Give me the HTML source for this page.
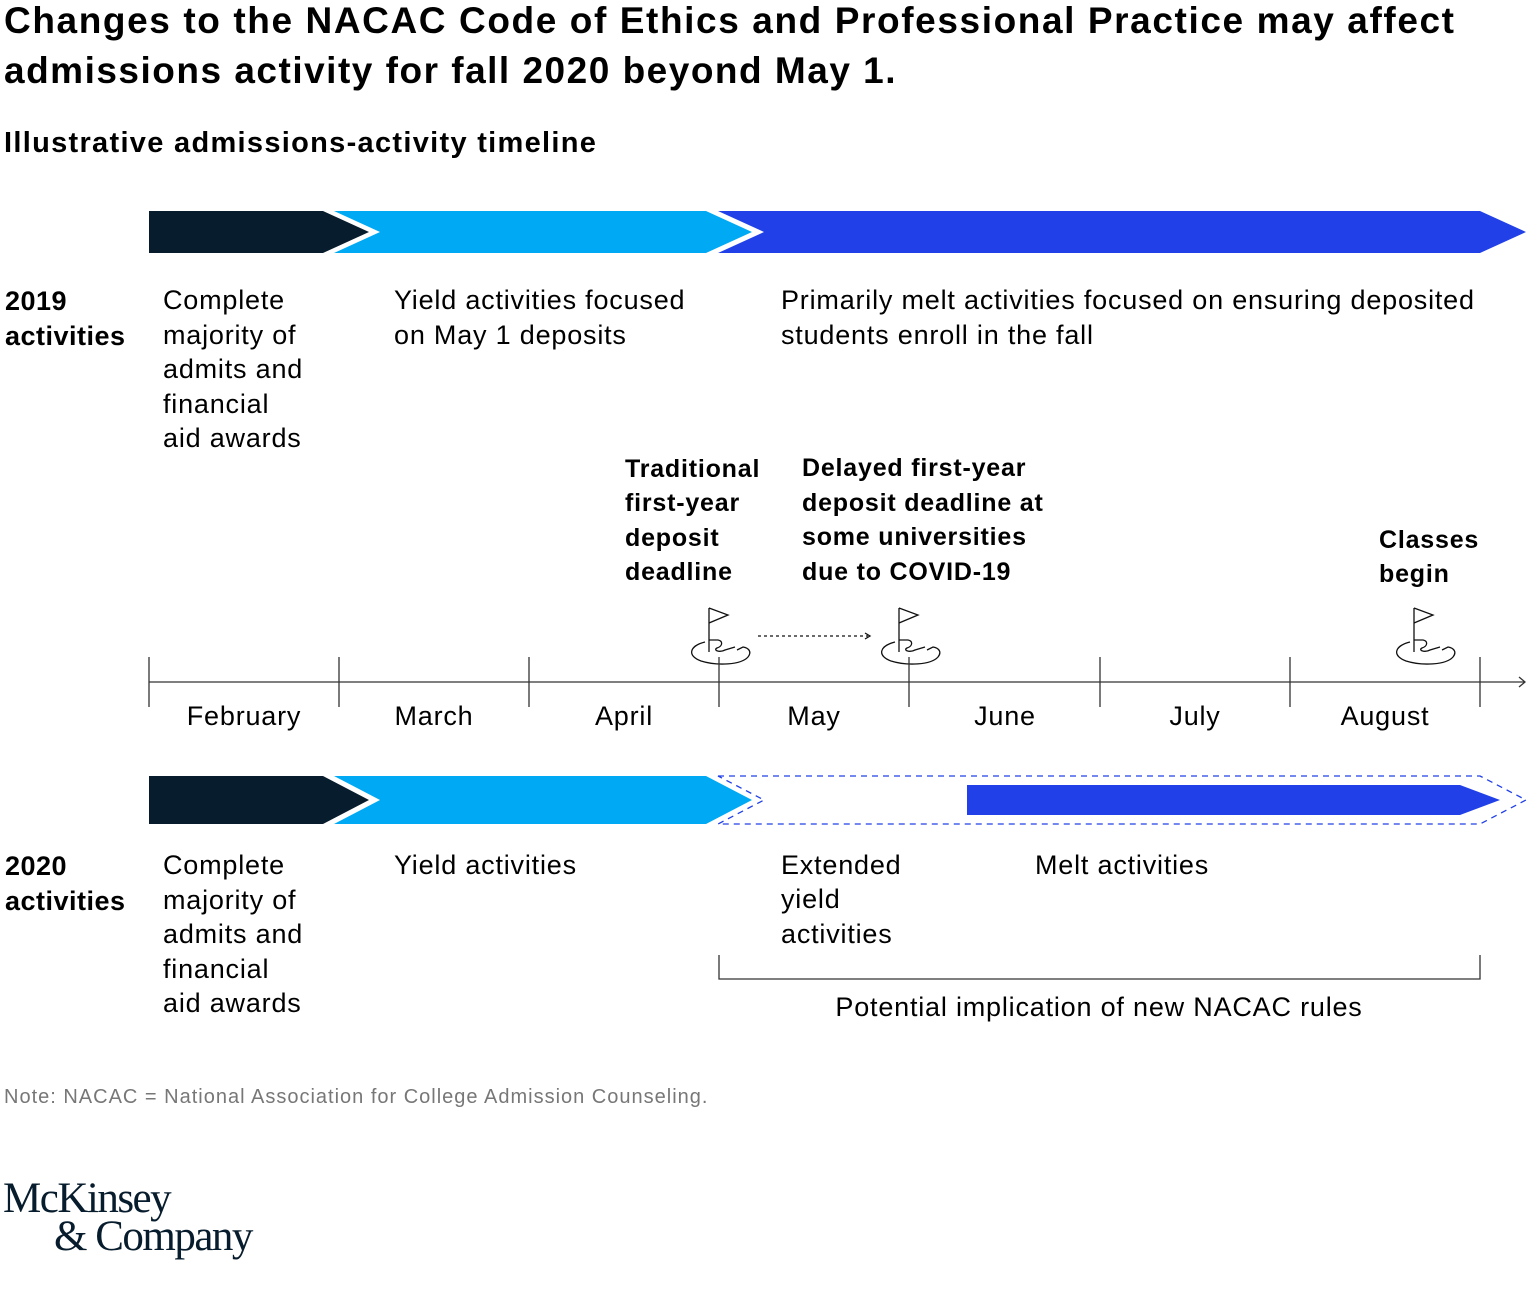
<!DOCTYPE html>
<html><head><meta charset="utf-8"><style>
body{margin:0;background:#fff;width:1536px;height:1299px;overflow:hidden;font-family:"Liberation Sans",sans-serif;color:#000}
</style></head><body>
<svg width="1536" height="1299" xmlns="http://www.w3.org/2000/svg" style="position:absolute;left:0;top:0">
<defs>
<g id="flag">
<line x1="-10" y1="608" x2="-10" y2="652" stroke="#111" stroke-width="1.3"/>
<path d="M-10,608 L9,615 L-10,623" fill="none" stroke="#111" stroke-width="1.3"/>
<path d="M-10,640 L-1,640 C4,641 4,646 -2,648 C-6,650 0,653 6,650 L16,647" fill="none" stroke="#111" stroke-width="1.3"/>
<path d="M-14,642 C-30,646 -32,656 -18,661 C-2,666 22,665 29,657 C33,652 30,648 24,647 L18,650" fill="none" stroke="#111" stroke-width="1.3"/>
</g>
</defs>
<g font-family="Liberation Sans, sans-serif">
<text x="4" y="33" font-size="37" font-weight="bold" letter-spacing="1.6">Changes to the NACAC Code of Ethics and Professional Practice may affect</text>
<text x="4" y="83" font-size="37" font-weight="bold" letter-spacing="1.5">admissions activity for fall 2020 beyond May 1.</text>
<text x="4" y="152" font-size="29" font-weight="bold" letter-spacing="1.3">Illustrative admissions-activity timeline</text>
</g>
<polygon points="149,211 323,211 369,232 323,253 149,253" fill="#071C2C"/>
<polygon points="334,211 706,211 752,232 706,253 334,253 380,232" fill="#00A9F4"/>
<polygon points="718,211 1480,211 1526,232 1480,253 718,253 764,232" fill="#2140E8"/>
<g font-size="27" letter-spacing="0.8">
<text x="5" y="310" font-weight="bold" letter-spacing="0.5">2019</text>
<text x="5" y="345" font-weight="bold" letter-spacing="0.5">activities</text>
<text x="163" y="309">Complete</text>
<text x="163" y="344">majority of</text>
<text x="163" y="378">admits and</text>
<text x="163" y="413">financial</text>
<text x="163" y="447">aid awards</text>
<text x="394" y="309">Yield activities focused</text>
<text x="394" y="344">on May 1 deposits</text>
<text x="781" y="309">Primarily melt activities focused on ensuring deposited</text>
<text x="781" y="344">students enroll in the fall</text>
</g>
<g font-size="25" font-weight="bold" letter-spacing="0.8">
<text x="625" y="477">Traditional</text>
<text x="625" y="511">first-year</text>
<text x="625" y="546">deposit</text>
<text x="625" y="580">deadline</text>
<text x="802" y="476">Delayed first-year</text>
<text x="802" y="511">deposit deadline at</text>
<text x="802" y="545">some universities</text>
<text x="802" y="580">due to COVID-19</text>
<text x="1379" y="548">Classes</text>
<text x="1379" y="582">begin</text>
</g>
<use href="#flag" x="719"/>
<use href="#flag" x="909"/>
<use href="#flag" x="1424"/>
<line x1="758" y1="636" x2="868" y2="636" stroke="#111" stroke-width="1.3" stroke-dasharray="3,3"/>
<path d="M865,633 L870,636 L865,639" fill="none" stroke="#111" stroke-width="1.3"/>
<line x1="149" y1="682" x2="1525" y2="682" stroke="#333" stroke-width="1.3"/>
<path d="M1519,677 L1525,682 L1519,687" fill="none" stroke="#333" stroke-width="1.3"/>
<g stroke="#333" stroke-width="1.3">
<line x1="149" y1="657" x2="149" y2="707"/><line x1="339" y1="657" x2="339" y2="707"/><line x1="529" y1="657" x2="529" y2="707"/><line x1="719" y1="657" x2="719" y2="707"/><line x1="909" y1="657" x2="909" y2="707"/><line x1="1100" y1="657" x2="1100" y2="707"/><line x1="1290" y1="657" x2="1290" y2="707"/><line x1="1480" y1="657" x2="1480" y2="707"/>
</g>
<g font-size="27" text-anchor="middle" letter-spacing="0.8">
<text x="244" y="725">February</text><text x="434" y="725">March</text><text x="624" y="725">April</text><text x="814" y="725">May</text><text x="1005" y="725">June</text><text x="1195" y="725">July</text><text x="1385" y="725">August</text>
</g>
<polygon points="149,776 323,776 369,800 323,824 149,824" fill="#071C2C"/>
<polygon points="334,776 706,776 752,800 706,824 334,824 380,800" fill="#00A9F4"/>
<path d="M718,776 L1480,776 L1526,800 L1480,824 L718,824 L764,800 Z" fill="none" stroke="#2140E8" stroke-width="1.3" stroke-dasharray="6,5"/>
<polygon points="967,785 1460,785 1500,800 1460,815 967,815" fill="#2140E8"/>
<g font-size="27" letter-spacing="0.8">
<text x="5" y="875" font-weight="bold" letter-spacing="0.5">2020</text>
<text x="5" y="910" font-weight="bold" letter-spacing="0.5">activities</text>
<text x="163" y="874">Complete</text>
<text x="163" y="909">majority of</text>
<text x="163" y="943">admits and</text>
<text x="163" y="978">financial</text>
<text x="163" y="1012">aid awards</text>
<text x="394" y="874">Yield activities</text>
<text x="781" y="874">Extended</text>
<text x="781" y="908">yield</text>
<text x="781" y="943">activities</text>
<text x="1035" y="874">Melt activities</text>
<text x="1099" y="1016" text-anchor="middle">Potential implication of new NACAC rules</text>
</g>
<path d="M719,955 L719,979 L1480,979 L1480,955" fill="none" stroke="#333" stroke-width="1.3"/>
<text x="4" y="1103" font-size="20" fill="#777" letter-spacing="1">Note: NACAC = National Association for College Admission Counseling.</text>
<g font-family="Liberation Serif, serif" fill="#071C2C" font-size="43">
<text x="3" y="1212" letter-spacing="-1.5">McKinsey</text>
<text x="54" y="1250" letter-spacing="-1.5">&amp; Company</text>
</g>
</svg>
</body></html>
